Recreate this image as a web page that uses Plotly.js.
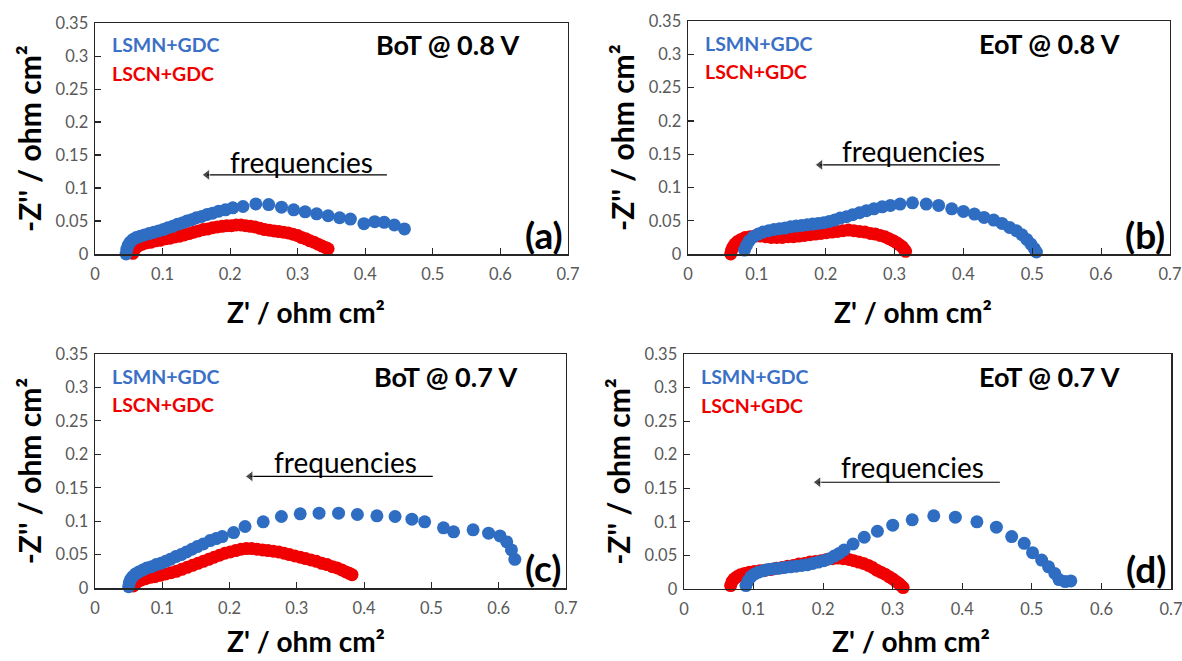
<!DOCTYPE html>
<html>
<head>
<meta charset="utf-8">
<script src="https://cdn.plot.ly/plotly-3.0.1.min.js"></script>
<style>html,body{margin:0;padding:0;background:#fff;}#chart{width:1182px;height:661px;}</style>
</head>
<body>
<div id="chart"></div>
<script>
// ---- Data (Z' and -Z'' in ohm cm2) ----
const seriesNames = ["LSMN+GDC", "LSCN+GDC"];
const panelTitles = ["BoT @ 0.8 V", "EoT @ 0.8 V", "BoT @ 0.7 V", "EoT @ 0.7 V"];
const panelLabels = ["(a)", "(b)", "(c)", "(d)"];
const xTicks = [0, 0.1, 0.2, 0.3, 0.4, 0.5, 0.6, 0.7];
const yTicks = [0, 0.05, 0.1, 0.15, 0.2, 0.25, 0.3, 0.35];

// (a) BoT @ 0.8 V
const a_LSMN_x = [0.046,0.047,0.049,0.052,0.056,0.061,0.067,0.073,0.080,0.087,0.094,0.101,0.108,0.115,0.122,0.129,0.136,0.143,0.150,0.158,0.166,0.174,0.183,0.193,0.204,0.219,0.238,0.257,0.276,0.294,0.311,0.328,0.345,0.362,0.378,0.398,0.414,0.428,0.443,0.458];
const a_LSMN_y = [0.000,0.007,0.013,0.018,0.022,0.025,0.027,0.029,0.031,0.033,0.035,0.037,0.040,0.042,0.045,0.047,0.050,0.052,0.055,0.057,0.060,0.062,0.065,0.067,0.070,0.072,0.076,0.075,0.071,0.067,0.064,0.061,0.058,0.055,0.053,0.046,0.049,0.048,0.044,0.038];
const a_LSCN_x = [0.055,0.056,0.058,0.061,0.065,0.070,0.076,0.083,0.090,0.097,0.104,0.111,0.118,0.125,0.132,0.139,0.146,0.153,0.160,0.167,0.174,0.181,0.188,0.195,0.202,0.209,0.216,0.223,0.230,0.237,0.244,0.251,0.258,0.265,0.272,0.279,0.286,0.293,0.300,0.306,0.312,0.318,0.324,0.330,0.336,0.341,0.345];
const a_LSCN_y = [-0.004,0.001,0.006,0.010,0.013,0.015,0.017,0.018,0.020,0.021,0.023,0.024,0.026,0.027,0.029,0.031,0.033,0.035,0.037,0.038,0.040,0.041,0.042,0.043,0.043,0.044,0.044,0.043,0.042,0.041,0.039,0.037,0.036,0.035,0.034,0.033,0.032,0.030,0.028,0.025,0.023,0.020,0.018,0.015,0.012,0.010,0.008];

// (b) EoT @ 0.8 V
const b_LSMN_x = [0.080,0.082,0.085,0.089,0.095,0.102,0.109,0.117,0.125,0.133,0.141,0.149,0.157,0.165,0.173,0.181,0.189,0.197,0.205,0.213,0.221,0.230,0.239,0.249,0.259,0.270,0.282,0.294,0.308,0.326,0.346,0.364,0.383,0.400,0.416,0.430,0.444,0.456,0.467,0.477,0.485,0.492,0.498,0.503,0.506];
const b_LSMN_y = [-0.002,0.006,0.013,0.020,0.026,0.030,0.033,0.035,0.037,0.038,0.039,0.041,0.042,0.043,0.044,0.045,0.046,0.047,0.049,0.051,0.054,0.056,0.059,0.062,0.065,0.068,0.071,0.073,0.075,0.077,0.075,0.073,0.068,0.064,0.060,0.055,0.051,0.046,0.040,0.035,0.029,0.022,0.015,0.008,0.003];
const b_LSCN_x = [0.062,0.063,0.065,0.068,0.072,0.077,0.083,0.090,0.097,0.105,0.113,0.121,0.129,0.137,0.145,0.153,0.161,0.169,0.177,0.185,0.193,0.201,0.209,0.217,0.225,0.233,0.241,0.249,0.257,0.265,0.272,0.279,0.286,0.292,0.298,0.303,0.307,0.311,0.314,0.316];
const b_LSCN_y = [0.000,0.005,0.010,0.015,0.019,0.022,0.025,0.026,0.027,0.027,0.026,0.025,0.025,0.025,0.026,0.026,0.027,0.028,0.029,0.030,0.031,0.032,0.033,0.034,0.035,0.036,0.035,0.034,0.033,0.031,0.030,0.028,0.026,0.023,0.020,0.017,0.014,0.011,0.007,0.004];

// (c) BoT @ 0.7 V
const c_LSMN_x = [0.050,0.051,0.053,0.056,0.060,0.065,0.071,0.077,0.084,0.091,0.098,0.105,0.112,0.120,0.128,0.136,0.144,0.152,0.161,0.171,0.180,0.189,0.206,0.223,0.250,0.277,0.305,0.333,0.362,0.390,0.419,0.446,0.471,0.490,0.518,0.533,0.562,0.585,0.602,0.612,0.619,0.624];
const c_LSMN_y = [0.002,0.008,0.013,0.017,0.021,0.024,0.027,0.030,0.032,0.035,0.037,0.040,0.043,0.047,0.050,0.054,0.058,0.062,0.066,0.071,0.074,0.077,0.083,0.092,0.099,0.107,0.111,0.112,0.112,0.110,0.108,0.107,0.103,0.099,0.090,0.084,0.087,0.082,0.078,0.069,0.057,0.043];
const c_LSCN_x = [0.053,0.055,0.057,0.060,0.064,0.069,0.075,0.082,0.089,0.097,0.105,0.113,0.121,0.129,0.137,0.145,0.153,0.161,0.169,0.177,0.185,0.193,0.201,0.209,0.217,0.225,0.233,0.241,0.249,0.257,0.265,0.273,0.281,0.289,0.297,0.305,0.313,0.321,0.329,0.337,0.345,0.353,0.360,0.367,0.373,0.378,0.382];
const c_LSCN_y = [-0.005,-0.001,0.003,0.007,0.010,0.012,0.014,0.016,0.017,0.019,0.021,0.023,0.025,0.028,0.031,0.034,0.037,0.040,0.043,0.046,0.049,0.052,0.054,0.056,0.058,0.059,0.059,0.058,0.057,0.056,0.055,0.054,0.052,0.050,0.048,0.046,0.044,0.042,0.040,0.037,0.035,0.032,0.030,0.027,0.024,0.022,0.020];

// (d) EoT @ 0.7 V
const d_LSMN_x = [0.088,0.089,0.092,0.096,0.101,0.107,0.114,0.121,0.129,0.137,0.145,0.153,0.161,0.169,0.177,0.185,0.193,0.201,0.209,0.216,0.223,0.230,0.243,0.259,0.278,0.300,0.328,0.359,0.390,0.421,0.449,0.471,0.489,0.501,0.514,0.524,0.533,0.539,0.548,0.556];
const d_LSMN_y = [-0.002,0.005,0.012,0.018,0.022,0.025,0.027,0.029,0.030,0.031,0.032,0.033,0.034,0.035,0.036,0.038,0.040,0.042,0.045,0.049,0.053,0.058,0.067,0.077,0.086,0.095,0.103,0.109,0.107,0.100,0.092,0.078,0.068,0.054,0.043,0.033,0.023,0.014,0.011,0.012];
const d_LSCN_x = [0.066,0.067,0.069,0.072,0.076,0.081,0.087,0.094,0.101,0.109,0.117,0.125,0.133,0.141,0.149,0.157,0.165,0.173,0.181,0.189,0.197,0.205,0.213,0.221,0.229,0.237,0.244,0.251,0.258,0.265,0.271,0.277,0.283,0.289,0.295,0.300,0.305,0.309,0.312,0.315];
const d_LSCN_y = [-0.001,0.005,0.011,0.015,0.018,0.021,0.023,0.025,0.026,0.027,0.028,0.029,0.031,0.032,0.034,0.035,0.037,0.038,0.040,0.041,0.042,0.044,0.045,0.046,0.045,0.044,0.042,0.040,0.038,0.035,0.032,0.028,0.025,0.022,0.018,0.015,0.011,0.008,0.005,0.002];

// ---- Styling ----
const FONT = "Lato, 'Open Sans', sans-serif";
const BLUE = "#2E6DC2";
const RED = "#F00000";
const LINE = "#262626";

const panels = [
  {lsmn:[a_LSMN_x,a_LSMN_y], lscn:[a_LSCN_x,a_LSCN_y], xd:[0.0804,0.4805], yd:[0.6157,0.965],
   freq:[0.306,0.140], arrow:[0.166,0.432,0.120], xt:[0.259,0.528]},
  {lsmn:[b_LSMN_x,b_LSMN_y], lscn:[b_LSCN_x,b_LSCN_y], xd:[0.5821,0.9898], yd:[0.6157,0.968],
   freq:[0.327,0.155], arrow:[0.192,0.453,0.134], xt:[0.7724,0.528]},
  {lsmn:[c_LSMN_x,c_LSMN_y], lscn:[c_LSCN_x,c_LSCN_y], xd:[0.0804,0.4788], yd:[0.1104,0.4644],
   freq:[0.372,0.189], arrow:[0.231,0.502,0.167], xt:[0.259,0.030]},
  {lsmn:[d_LSMN_x,d_LSMN_y], lscn:[d_LSCN_x,d_LSCN_y], xd:[0.5787,0.9907], yd:[0.109,0.4644],
   freq:[0.329,0.182], arrow:[0.193,0.454,0.159], xt:[0.7707,0.030]}
];

const traces = [];
const layout = {
  width: 1182, height: 661,
  margin: {l:0, r:0, t:0, b:0},
  paper_bgcolor: "#fff", plot_bgcolor: "#fff",
  showlegend: false,
  font: {family: FONT, color: "#000"},
  annotations: []
};

panels.forEach((p, i) => {
  const n = i === 0 ? "" : String(i + 1);
  const xa = "x" + n, ya = "y" + n;
  traces.push({
    type: "scatter", mode: "markers", name: seriesNames[1],
    x: p.lscn[0], y: p.lscn[1], xaxis: xa, yaxis: ya, cliponaxis: false,
    marker: {color: RED, size: 13, line: {width: 0}}
  });
  traces.push({
    type: "scatter", mode: "markers", name: seriesNames[0],
    x: p.lsmn[0], y: p.lsmn[1], xaxis: xa, yaxis: ya, cliponaxis: false,
    marker: {color: BLUE, size: 13, line: {width: 0}}
  });
  // "frequencies" arrow: line with an arrow-head marker at its left end
  traces.push({
    type: "scatter", mode: "lines+markers", name: "frequency direction",
    x: [p.arrow[1], p.arrow[0]], y: [p.arrow[2], p.arrow[2]], xaxis: xa, yaxis: ya,
    hoverinfo: "skip", cliponaxis: false,
    line: {color: "#000", width: 1.2},
    marker: {symbol: ["circle", "triangle-left"], size: [0, 10], color: "#000"}
  });
  const common = {
    showline: true, mirror: true, linecolor: LINE, linewidth: 1.5,
    ticks: "inside", ticklen: 6, tickcolor: LINE, tickwidth: 1.2,
    showgrid: false, zeroline: false, automargin: false,
    ticklabeloverflow: "allow",
    tickfont: {family: FONT, size: 16.5, color: "#595959"}
  };
  layout["xaxis" + n] = Object.assign({}, common, {
    domain: p.xd, range: [0, 0.7], tickvals: xTicks, ticktext: xTicks.map(String),
    anchor: ya, ticklabelstandoff: 5
  });
  layout["yaxis" + n] = Object.assign({}, common, {
    domain: p.yd, range: [0, 0.35], tickvals: yTicks, ticktext: yTicks.map(String),
    anchor: xa, ticklabelstandoff: 2,
    title: {text: "-Z'' / ohm cm²", font: {family: FONT, size: 30, color: "#000", weight: 700}, standoff: 5}
  });
  // x-axis title (placed like the original, slightly left of centre)
  layout.annotations.push({
    xref: "paper", yref: "paper", x: p.xt[0], y: p.xt[1], xanchor: "center", yanchor: "middle",
    showarrow: false, text: "Z' / ohm cm²", font: {family: FONT, size: 28, color: "#000", weight: 700}
  });
  const ref = {xref: xa, yref: ya, showarrow: false};
  layout.annotations.push(Object.assign({}, ref, {
    x: 0.022, y: 0.317, xanchor: "left", yanchor: "middle",
    text: seriesNames[0], font: {family: FONT, size: 19.5, color: "#3A70C6", weight: 700}
  }));
  layout.annotations.push(Object.assign({}, ref, {
    x: 0.022, y: 0.274, xanchor: "left", yanchor: "middle",
    text: seriesNames[1], font: {family: FONT, size: 19.5, color: "#EE0000", weight: 700}
  }));
  layout.annotations.push(Object.assign({}, ref, {
    x: 0.630, y: 0.317, xanchor: "right", yanchor: "middle",
    text: panelTitles[i], font: {family: FONT, size: 27, color: "#000", weight: 700}
  }));
  layout.annotations.push(Object.assign({}, ref, {
    x: 0.695, y: 0.030, xanchor: "right", yanchor: "middle",
    text: panelLabels[i], font: {family: FONT, size: 37, color: "#000", weight: 700}
  }));
  layout.annotations.push(Object.assign({}, ref, {
    x: p.freq[0], y: p.freq[1], xanchor: "center", yanchor: "middle",
    text: "frequencies", font: {family: FONT, size: 28, color: "#000"}
  }));
});

Plotly.newPlot("chart", traces, layout, {staticPlot: true, displayModeBar: false});
</script>
</body>
</html>
